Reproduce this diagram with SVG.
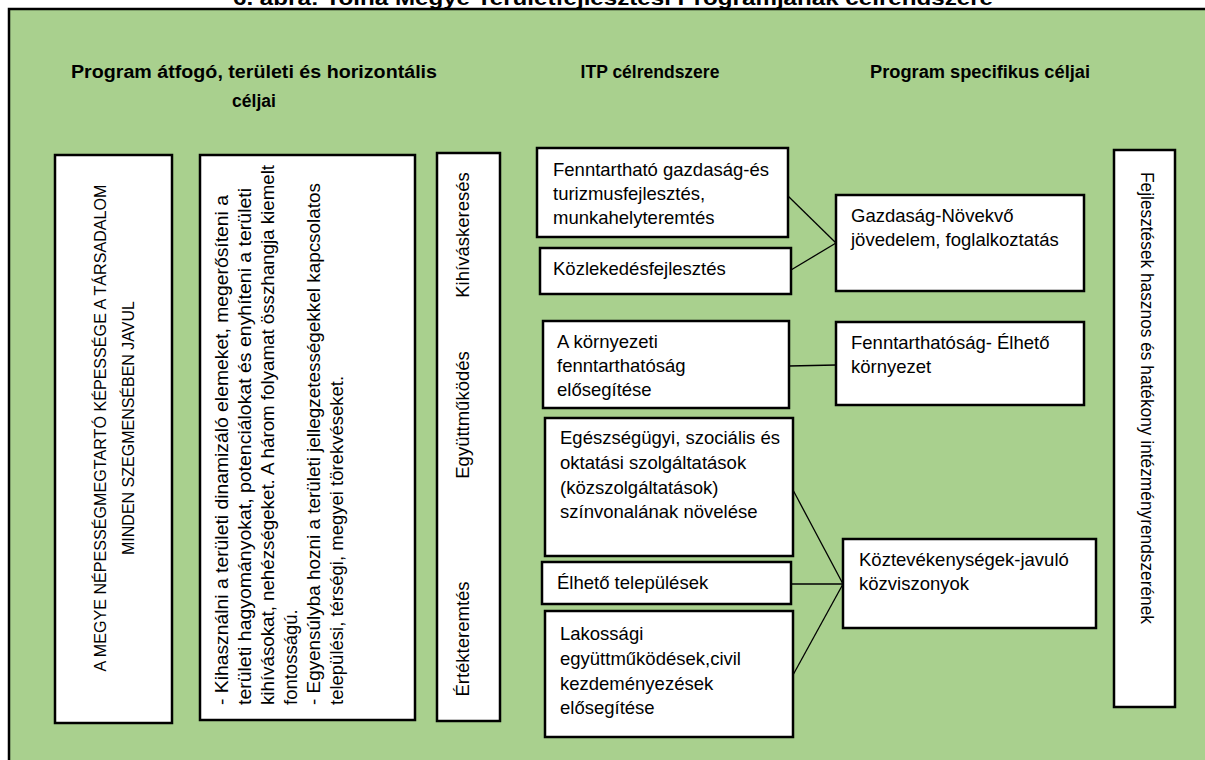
<svg xmlns="http://www.w3.org/2000/svg" width="1205" height="760" viewBox="0 0 1205 760">
<style>
.bg{fill:#a9d08e;stroke:#000;stroke-width:2.5}
.box{fill:#fff;stroke:#000;stroke-width:2.5}
.t{font-family:"Liberation Sans",Arial,sans-serif;font-size:18.5px;fill:#000}
.tc{font-family:"Liberation Sans",Arial,sans-serif;font-size:16px;fill:#000}
.h{font-family:"Liberation Sans",Arial,sans-serif;font-size:17.5px;font-weight:bold;fill:#000}
.ttl{font-family:"Liberation Sans",Arial,sans-serif;font-size:20px;font-weight:bold;fill:#000}
.ln{stroke:#000;stroke-width:1.3;fill:none}
</style>
<rect x="0" y="0" width="1205" height="760" fill="#fff"/>
<text class="ttl" x="613" y="5" text-anchor="middle" textLength="760" lengthAdjust="spacingAndGlyphs">6. ábra: Tolna Megye Területfejlesztési Programjának célrendszere</text>
<rect class="bg" x="9" y="9" width="1210" height="770"/>

<g id="headers">
<text class="h" x="254" y="78" text-anchor="middle" textLength="366" lengthAdjust="spacingAndGlyphs">Program átfogó, területi és horizontális</text>
<text class="h" x="254" y="107" text-anchor="middle">céljai</text>
<text class="h" x="650" y="78" text-anchor="middle">ITP célrendszere</text>
<text class="h" x="980" y="78" text-anchor="middle" textLength="220" lengthAdjust="spacingAndGlyphs">Program specifikus céljai</text>
</g>

<g id="node-megye">
<rect class="box" x="55" y="155" width="117" height="568"/>
<text class="tc" transform="translate(106,428) rotate(-90)" text-anchor="middle" textLength="487" lengthAdjust="spacingAndGlyphs">A MEGYE NÉPESSÉGMEGTARTÓ KÉPESSÉGE A TÁRSADALOM</text>
<text class="tc" transform="translate(134,428) rotate(-90)" text-anchor="middle">MINDEN SZEGMENSÉBEN JAVUL</text>
</g>

<g id="node-horizontalis">
<rect class="box" x="200" y="155" width="215" height="565"/>
<text class="t" transform="translate(228,705) rotate(-90)" textLength="510" lengthAdjust="spacingAndGlyphs">- Kihasználni a területi dinamizáló elemeket, megerősíteni a</text>
<text class="t" transform="translate(251,705) rotate(-90)" textLength="517" lengthAdjust="spacingAndGlyphs">területi hagyományokat, potenciálokat és enyhíteni a területi</text>
<text class="t" transform="translate(274,705) rotate(-90)" textLength="540" lengthAdjust="spacingAndGlyphs">kihívásokat, nehézségeket. A három folyamat összhangja kiemelt</text>
<text class="t" transform="translate(297,705) rotate(-90)">fontosságú.</text>
<text class="t" transform="translate(320,705) rotate(-90)" textLength="522" lengthAdjust="spacingAndGlyphs">- Egyensúlyba hozni a területi jellegzetességekkel  kapcsolatos</text>
<text class="t" transform="translate(343,705) rotate(-90)">települési,  térségi,  megyei törekvéseket.</text>
</g>

<g id="node-elvek">
<rect class="box" x="437" y="153" width="63" height="568"/>
<text class="t" transform="translate(469,235) rotate(-90)" text-anchor="middle">Kihíváskeresés</text>
<text class="t" transform="translate(469,415) rotate(-90)" text-anchor="middle">Együttműködés</text>
<text class="t" transform="translate(469,639) rotate(-90)" text-anchor="middle">Értékteremtés</text>
</g>

<g id="connectors">
<line class="ln" x1="788" y1="196" x2="836" y2="243"/>
<line class="ln" x1="791" y1="270" x2="836" y2="243"/>
<line class="ln" x1="789" y1="366" x2="836" y2="365"/>
<line class="ln" x1="793" y1="490" x2="843" y2="584"/>
<line class="ln" x1="791" y1="584" x2="843" y2="584"/>
<line class="ln" x1="793" y1="675" x2="843" y2="584"/>
</g>

<g id="node-gazdasag-fejl">
<rect class="box" x="537" y="148" width="251" height="89"/>
<text class="t" x="553" y="176">Fenntartható gazdaság-és</text>
<text class="t" x="553" y="200">turizmusfejlesztés,</text>
<text class="t" x="553" y="224">munkahelyteremtés</text>
</g>

<g id="node-kozlekedes">
<rect class="box" x="540" y="248" width="251" height="46"/>
<text class="t" x="553" y="275">Közlekedésfejlesztés</text>
</g>

<g id="node-kornyezet">
<rect class="box" x="543" y="321" width="246" height="87"/>
<text class="t" x="557" y="348">A környezeti</text>
<text class="t" x="557" y="372">fenntarthatóság</text>
<text class="t" x="557" y="396">elősegítése</text>
</g>

<g id="node-kozszolg">
<rect class="box" x="545" y="418" width="248" height="138"/>
<text class="t" x="560" y="444">Egészségügyi, szociális és</text>
<text class="t" x="560" y="469">oktatási szolgáltatások</text>
<text class="t" x="560" y="494">(közszolgáltatások)</text>
<text class="t" x="560" y="518">színvonalának  növelése</text>
</g>

<g id="node-telepulesek">
<rect class="box" x="542" y="562" width="249" height="42"/>
<text class="t" x="557" y="589">Élhető települések</text>
</g>

<g id="node-lakossagi">
<rect class="box" x="545" y="611" width="248" height="126"/>
<text class="t" x="560" y="640">Lakossági</text>
<text class="t" x="560" y="665">együttműködések,civil</text>
<text class="t" x="560" y="690">kezdeményezések</text>
<text class="t" x="560" y="714">elősegítése</text>
</g>

<g id="node-gazdasag">
<rect class="box" x="836" y="195" width="248" height="96"/>
<text class="t" x="851" y="222">Gazdaság-Növekvő</text>
<text class="t" x="851" y="246">jövedelem, foglalkoztatás</text>
</g>

<g id="node-fenntarthatosag">
<rect class="box" x="836" y="322" width="248" height="83"/>
<text class="t" x="851" y="349">Fenntarthatóság- Élhető</text>
<text class="t" x="851" y="373">környezet</text>
</g>

<g id="node-koztevekenysegek">
<rect class="box" x="843" y="539" width="253" height="89"/>
<text class="t" x="859" y="566">Köztevékenységek-javuló</text>
<text class="t" x="859" y="590">közviszonyok</text>
</g>

<g id="node-intezmeny">
<rect class="box" x="1114" y="150" width="61" height="557"/>
<text class="t" transform="translate(1141,398) rotate(90)" text-anchor="middle" textLength="452" lengthAdjust="spacingAndGlyphs">Fejlesztések hasznos és hatékony intézményrendszerének</text>
</g>
</svg>
